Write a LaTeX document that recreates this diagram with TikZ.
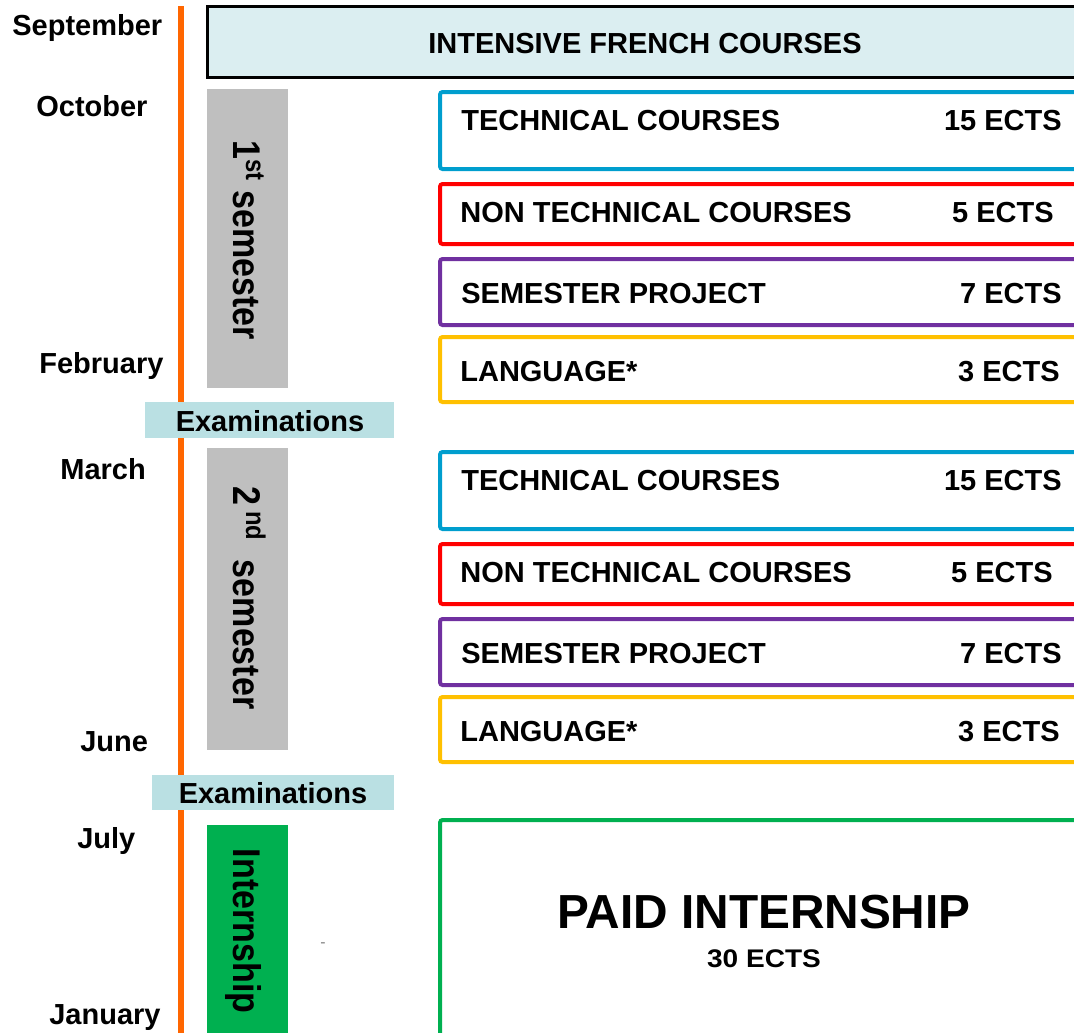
\documentclass[tikz,border=0pt]{standalone}
\usepackage{fontspec}
\setmainfont{Liberation Sans}
\definecolor{lineorange}{RGB}{255,102,0}
\definecolor{frenchfill}{RGB}{219,238,241}
\definecolor{examfill}{RGB}{186,224,227}
\definecolor{semgray}{RGB}{191,191,191}
\definecolor{interngreen}{RGB}{0,176,80}
\definecolor{techblue}{RGB}{0,158,206}
\definecolor{nontechred}{RGB}{255,0,0}
\definecolor{projpurple}{RGB}{112,48,160}
\definecolor{langyellow}{RGB}{255,192,0}
\begin{document}
\begin{tikzpicture}[x=0.02cm, y=-0.02cm]
\tikzstyle{month}     = [anchor=base west, inner sep=0pt, font=\fontsize{16.5}{18}\selectfont\bfseries]
\tikzstyle{course}    = [anchor=base west, inner sep=0pt, font=\fontsize{16.5}{18}\selectfont\bfseries]
\tikzstyle{ects}      = [anchor=base east, inner sep=0pt, font=\fontsize{16.5}{18}\selectfont\bfseries]
\tikzstyle{examtxt}   = [anchor=base, inner sep=0pt, font=\fontsize{16.5}{18}\selectfont\bfseries]
\tikzstyle{exam}      = [rectangle, fill=examfill, inner sep=0pt, outer sep=0pt]
\tikzstyle{period}    = [rectangle, minimum width=1.62cm, inner sep=0pt, outer sep=0pt]
\tikzstyle{periodtxt} = [anchor=base, rotate=-90, xscale=0.88, inner sep=0pt, font=\fontsize{22}{24}\selectfont\bfseries]
\tikzstyle{coursebox} = [rectangle, line width=0.08cm, rounded corners=0.05cm, minimum width=13.2cm, inner sep=0pt, outer sep=0pt]
\useasboundingbox (0,0) rectangle (1074,1032);
\clip (0,0) rectangle (1074,1032);
% time line
\coordinate (line_top) at (181, 6);
\coordinate (line_bot) at (181, 1040);
\draw[line width=0.12cm, lineorange] (line_top) -- (line_bot);
% months
\node[month] at (12, 35) (m_sep) {September};
\node[month] at (36, 116) (m_oct) {October};
\node[month] at (39, 373) (m_feb) {February};
\node[month] at (60, 479) (m_mar) {March};
\node[month] at (80, 751) (m_jun) {June};
\node[month] at (77, 848) (m_jul) {July};
\node[month] at (49, 1024) (m_jan) {January};
% french courses
\node[rectangle, draw=black, fill=frenchfill, line width=0.06cm, minimum width=17.85cm, minimum height=1.42cm, inner sep=0pt] at (653.75, 42) (french) {};
\node[examtxt] at (645, 53) (french_t) {INTENSIVE FRENCH COURSES};
% periods
\node[period, fill=semgray, minimum height=5.98cm] at (247.5, 238.5) (sem_1) {};
\node[periodtxt] at (233, 240) (sem_1_t) {1\textsuperscript{st} semester};
\node[exam, minimum width=4.98cm, minimum height=0.72cm] at (269.5, 420) (exam_1) {};
\node[examtxt] at (270, 431) (exam_1_t) {Examinations};
\node[period, fill=semgray, minimum height=6.04cm] at (247.5, 599) (sem_2) {};
\node[periodtxt] at (233, 598) (sem_2_t) {2\,\textsuperscript{nd}\ \ semester};
\node[exam, minimum width=4.84cm, minimum height=0.70cm] at (273, 792.5) (exam_2) {};
\node[examtxt] at (273, 803) (exam_2_t) {Examinations};
\node[period, fill=interngreen, minimum height=4.3cm] at (247.5, 932.5) (intern) {};
\node[periodtxt] at (233, 931) (intern_t) {Internship};
\node[text=gray, inner sep=0pt, font=\fontsize{9}{10}\selectfont] at (323, 945) (dash) {-};
% 1st semester courses
\node[coursebox, draw=techblue, minimum height=1.54cm] at (770, 130.5) (s1_tc) {};
\node[course] at (461, 130) (s1_tc_t) {TECHNICAL COURSES};
\node[ects] at (1062, 130) (s1_tc_e) {15 ECTS};
\node[coursebox, draw=nontechred, minimum height=1.20cm] at (770, 214) (s1_nt) {};
\node[course] at (460, 222) (s1_nt_t) {NON TECHNICAL COURSES};
\node[ects] at (1054, 222) (s1_nt_e) {5 ECTS};
\node[coursebox, draw=projpurple, minimum height=1.32cm] at (770, 292) (s1_pr) {};
\node[course] at (461, 303) (s1_pr_t) {SEMESTER PROJECT};
\node[ects] at (1062, 303) (s1_pr_e) {7 ECTS};
\node[coursebox, draw=langyellow, minimum height=1.30cm] at (770, 369.5) (s1_la) {};
\node[course] at (460, 381) (s1_la_t) {LANGUAGE*};
\node[ects] at (1060, 381) (s1_la_e) {3 ECTS};
% 2nd semester courses
\node[coursebox, draw=techblue, minimum height=1.54cm] at (770, 490.5) (s2_tc) {};
\node[course] at (461, 490) (s2_tc_t) {TECHNICAL COURSES};
\node[ects] at (1062, 490) (s2_tc_e) {15 ECTS};
\node[coursebox, draw=nontechred, minimum height=1.20cm] at (770, 574) (s2_nt) {};
\node[course] at (460, 582) (s2_nt_t) {NON TECHNICAL COURSES};
\node[ects] at (1053, 582) (s2_nt_e) {5 ECTS};
\node[coursebox, draw=projpurple, minimum height=1.32cm] at (770, 652) (s2_pr) {};
\node[course] at (461, 663) (s2_pr_t) {SEMESTER PROJECT};
\node[ects] at (1062, 663) (s2_pr_e) {7 ECTS};
\node[coursebox, draw=langyellow, minimum height=1.30cm] at (770, 729.5) (s2_la) {};
\node[course] at (460, 741) (s2_la_t) {LANGUAGE*};
\node[ects] at (1060, 741) (s2_la_e) {3 ECTS};
% internship
\node[coursebox, draw=interngreen, minimum height=4.6cm] at (770, 935) (paid) {};
\node[anchor=base, inner sep=0pt, font=\fontsize{27.2}{29}\selectfont\bfseries] at (764, 928) (paid_t) {PAID INTERNSHIP};
\node[anchor=base, inner sep=0pt, xscale=1.1, font=\fontsize{14.5}{16}\selectfont\bfseries] at (764, 967) (paid_e) {30 ECTS};
\end{tikzpicture}
\end{document}
